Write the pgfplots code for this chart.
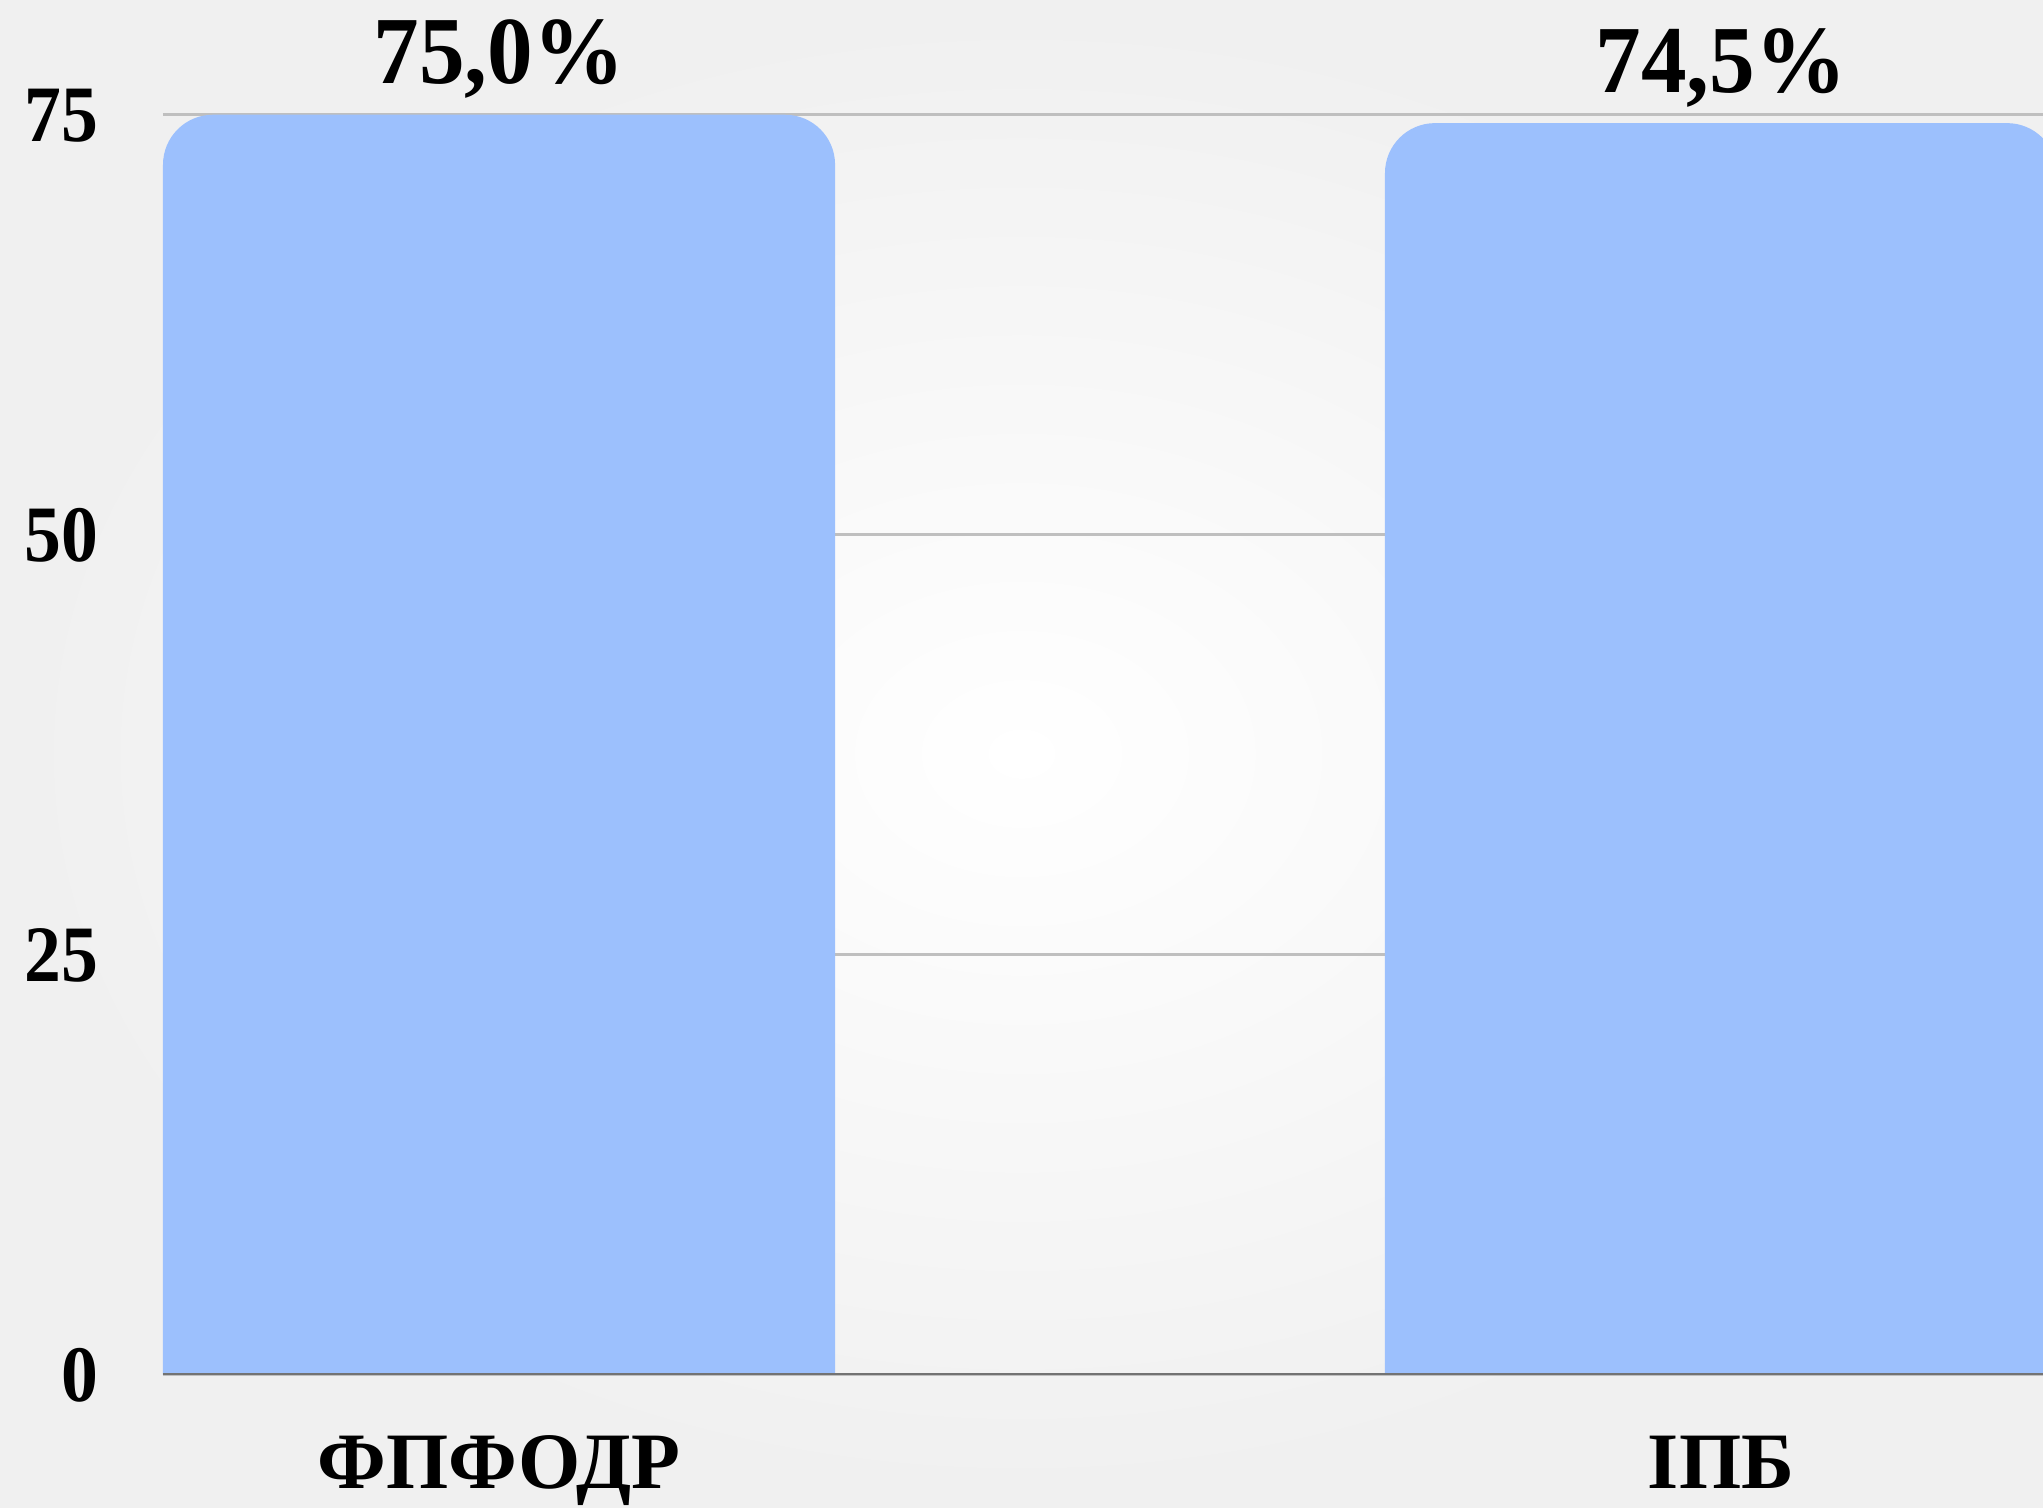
\documentclass[border=0pt]{standalone}
\usepackage{fontspec}
\setmainfont{Liberation Serif}
\newfontfamily\numfont[FakeStretch=0.92]{Liberation Serif}
\newfontfamily\valfont[FakeStretch=0.95]{Liberation Serif}
\usepackage{pgfplots}
\pgfplotsset{compat=1.18}
\definecolor{barblue}{HTML}{9CC0FD}
\begin{document}
\begin{tikzpicture}
\shade[inner color=white, outer color=black!6] (-40.75pt,-33.15pt) rectangle (470pt,343.65pt);
\begin{axis}[
  name=ax, at={(0,0)}, anchor=south west,
  scale only axis, width=470pt, height=343.65pt,
  xmin=-0.275, xmax=1.2635, ymin=0, ymax=81.83,
  axis line style={draw=none},
  major tick length=0pt,
  ytick={0,25,50,75},
  xtick={0,1}, xticklabels={ФПФОДР, ІПБ},
  ymajorgrids, grid style={draw=black!25, line width=0.65pt},
  /pgf/number format/assume math mode=true,
  yticklabel style={font=\numfont\bfseries\fontsize{20}{24}\selectfont, anchor=base east, inner sep=0pt, xshift=-16pt, yshift=-6.75pt},
  xticklabel style={font=\bfseries\fontsize{20}{24}\selectfont, anchor=base, inner sep=0pt, yshift=-28.5pt},
]
\addplot[fill=barblue, draw=none, rounded corners=12.5pt] coordinates {(-0.275,-10) (-0.275,75.0) (0.275,75.0) (0.275,-10)};
\addplot[fill=barblue, draw=none, rounded corners=12.5pt] coordinates {(0.725,-10) (0.725,74.5) (1.275,74.5) (1.275,-10)};
\addplot[draw=none, mark=none,
  nodes near coords={\pgfmathprintnumber[fixed,fixed zerofill,precision=1,use comma]{\pgfplotspointmeta}\%},
  every node near coord/.append style={font=\valfont\bfseries\fontsize{24}{28}\selectfont, anchor=base, inner sep=0pt, yshift=7.75pt, text=black}]
  coordinates {(0,75.0) (1,74.5)};
\draw[draw=black!55, line width=0.75pt] (rel axis cs:0,0) -- (rel axis cs:1,0);
\end{axis}
\pgfresetboundingbox
\useasboundingbox (-40.75pt,-33.15pt) rectangle (470pt,343.65pt);
\end{tikzpicture}
\end{document}
